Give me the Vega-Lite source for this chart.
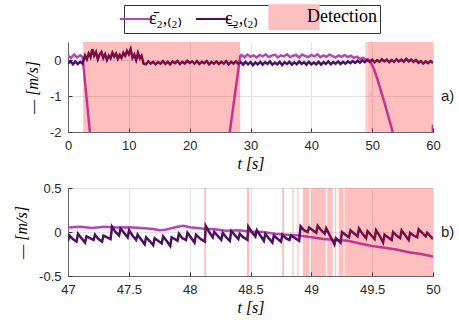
{
  "$schema": "https://vega.github.io/schema/vega-lite/v6.json",
  "padding": {"left": 13, "top": 4, "right": 2, "bottom": 5},
  "spacing": 11,
  "datasets": {
    "top": [
      {"t":0,"v":0.12,"s":"ε̄₂,₍₂₎"},{"t":0.5,"v":0.06,"s":"ε̄₂,₍₂₎"},{"t":1,"v":0.15,"s":"ε̄₂,₍₂₎"},{"t":1.5,"v":0.07,"s":"ε̄₂,₍₂₎"},{"t":2,"v":0.13,"s":"ε̄₂,₍₂₎"},{"t":2.4,"v":0.08,"s":"ε̄₂,₍₂₎"},
      {"t":3.6,"v":-2.0,"s":"ε̄₂,₍₂₎"},{"t":4.1,"v":-2.9,"s":"ε̄₂,₍₂₎"},{"t":26,"v":-2.9,"s":"ε̄₂,₍₂₎"},{"t":26.6,"v":-2.0,"s":"ε̄₂,₍₂₎"},{"t":28.3,"v":0.1,"s":"ε̄₂,₍₂₎"},
      {"t":28.5,"v":0.14,"s":"ε̄₂,₍₂₎"},{"t":29,"v":0.08,"s":"ε̄₂,₍₂₎"},{"t":29.5,"v":0.15,"s":"ε̄₂,₍₂₎"},{"t":30,"v":0.09,"s":"ε̄₂,₍₂₎"},{"t":30.5,"v":0.13,"s":"ε̄₂,₍₂₎"},{"t":31,"v":0.07,"s":"ε̄₂,₍₂₎"},{"t":31.5,"v":0.14,"s":"ε̄₂,₍₂₎"},{"t":32,"v":0.1,"s":"ε̄₂,₍₂₎"},{"t":32.5,"v":0.16,"s":"ε̄₂,₍₂₎"},{"t":33,"v":0.08,"s":"ε̄₂,₍₂₎"},{"t":33.5,"v":0.12,"s":"ε̄₂,₍₂₎"},{"t":34,"v":0.15,"s":"ε̄₂,₍₂₎"},{"t":34.5,"v":0.07,"s":"ε̄₂,₍₂₎"},{"t":35,"v":0.13,"s":"ε̄₂,₍₂₎"},{"t":35.5,"v":0.1,"s":"ε̄₂,₍₂₎"},{"t":36,"v":0.16,"s":"ε̄₂,₍₂₎"},{"t":36.5,"v":0.08,"s":"ε̄₂,₍₂₎"},{"t":37,"v":0.12,"s":"ε̄₂,₍₂₎"},{"t":37.5,"v":0.14,"s":"ε̄₂,₍₂₎"},{"t":38,"v":0.07,"s":"ε̄₂,₍₂₎"},{"t":38.5,"v":0.15,"s":"ε̄₂,₍₂₎"},{"t":39,"v":0.11,"s":"ε̄₂,₍₂₎"},{"t":39.5,"v":0.08,"s":"ε̄₂,₍₂₎"},{"t":40,"v":0.14,"s":"ε̄₂,₍₂₎"},{"t":40.5,"v":0.1,"s":"ε̄₂,₍₂₎"},{"t":41,"v":0.16,"s":"ε̄₂,₍₂₎"},{"t":41.5,"v":0.08,"s":"ε̄₂,₍₂₎"},{"t":42,"v":0.13,"s":"ε̄₂,₍₂₎"},{"t":42.5,"v":0.09,"s":"ε̄₂,₍₂₎"},{"t":43,"v":0.15,"s":"ε̄₂,₍₂₎"},{"t":43.5,"v":0.11,"s":"ε̄₂,₍₂₎"},{"t":44,"v":0.07,"s":"ε̄₂,₍₂₎"},{"t":44.5,"v":0.13,"s":"ε̄₂,₍₂₎"},{"t":45,"v":0.09,"s":"ε̄₂,₍₂₎"},{"t":45.5,"v":0.14,"s":"ε̄₂,₍₂₎"},{"t":46,"v":0.08,"s":"ε̄₂,₍₂₎"},{"t":46.5,"v":0.12,"s":"ε̄₂,₍₂₎"},{"t":47,"v":0.06,"s":"ε̄₂,₍₂₎"},{"t":47.5,"v":0.09,"s":"ε̄₂,₍₂₎"},{"t":48,"v":0.03,"s":"ε̄₂,₍₂₎"},{"t":48.5,"v":0.06,"s":"ε̄₂,₍₂₎"},{"t":49,"v":0.0,"s":"ε̄₂,₍₂₎"},{"t":49.3,"v":0.02,"s":"ε̄₂,₍₂₎"},
      {"t":49.8,"v":-0.08,"s":"ε̄₂,₍₂₎"},{"t":50.3,"v":-0.25,"s":"ε̄₂,₍₂₎"},{"t":50.8,"v":-0.5,"s":"ε̄₂,₍₂₎"},{"t":51.3,"v":-0.78,"s":"ε̄₂,₍₂₎"},{"t":51.8,"v":-1.05,"s":"ε̄₂,₍₂₎"},{"t":52.3,"v":-1.35,"s":"ε̄₂,₍₂₎"},{"t":52.8,"v":-1.65,"s":"ε̄₂,₍₂₎"},{"t":53.3,"v":-1.95,"s":"ε̄₂,₍₂₎"},{"t":53.8,"v":-2.3,"s":"ε̄₂,₍₂₎"},{"t":54.3,"v":-2.7,"s":"ε̄₂,₍₂₎"},{"t":59.9,"v":-2.7,"s":"ε̄₂,₍₂₎"},{"t":60,"v":-1.8,"s":"ε̄₂,₍₂₎"},

      {"t":0,"v":-0.1,"s":"ε̲₂,₍₂₎"},{"t":0.4,"v":-0.03,"s":"ε̲₂,₍₂₎"},{"t":0.8,"v":-0.12,"s":"ε̲₂,₍₂₎"},{"t":1.2,"v":-0.04,"s":"ε̲₂,₍₂₎"},{"t":1.6,"v":-0.11,"s":"ε̲₂,₍₂₎"},{"t":2.0,"v":-0.05,"s":"ε̲₂,₍₂₎"},{"t":2.4,"v":-0.1,"s":"ε̲₂,₍₂₎"},
      {"t":2.8,"v":0.12,"s":"ε̲₂,₍₂₎"},{"t":3.1,"v":0.02,"s":"ε̲₂,₍₂₎"},{"t":3.4,"v":0.18,"s":"ε̲₂,₍₂₎"},{"t":3.7,"v":0.08,"s":"ε̲₂,₍₂₎"},{"t":4.0,"v":0.3,"s":"ε̲₂,₍₂₎"},{"t":4.3,"v":0.12,"s":"ε̲₂,₍₂₎"},{"t":4.6,"v":0.22,"s":"ε̲₂,₍₂₎"},{"t":4.9,"v":0.02,"s":"ε̲₂,₍₂₎"},{"t":5.2,"v":0.15,"s":"ε̲₂,₍₂₎"},{"t":5.5,"v":0.22,"s":"ε̲₂,₍₂₎"},{"t":5.8,"v":0.06,"s":"ε̲₂,₍₂₎"},{"t":6.1,"v":0.16,"s":"ε̲₂,₍₂₎"},{"t":6.4,"v":0.0,"s":"ε̲₂,₍₂₎"},{"t":6.7,"v":0.12,"s":"ε̲₂,₍₂₎"},{"t":7.0,"v":0.05,"s":"ε̲₂,₍₂₎"},{"t":7.3,"v":0.2,"s":"ε̲₂,₍₂₎"},{"t":7.6,"v":0.1,"s":"ε̲₂,₍₂₎"},{"t":7.9,"v":0.18,"s":"ε̲₂,₍₂₎"},{"t":8.2,"v":0.03,"s":"ε̲₂,₍₂₎"},{"t":8.5,"v":0.14,"s":"ε̲₂,₍₂₎"},{"t":8.8,"v":0.06,"s":"ε̲₂,₍₂₎"},{"t":9.1,"v":0.2,"s":"ε̲₂,₍₂₎"},{"t":9.4,"v":0.12,"s":"ε̲₂,₍₂₎"},{"t":9.7,"v":0.25,"s":"ε̲₂,₍₂₎"},{"t":10.0,"v":0.16,"s":"ε̲₂,₍₂₎"},{"t":10.3,"v":0.3,"s":"ε̲₂,₍₂₎"},{"t":10.6,"v":0.06,"s":"ε̲₂,₍₂₎"},{"t":10.9,"v":0.15,"s":"ε̲₂,₍₂₎"},{"t":11.2,"v":0.0,"s":"ε̲₂,₍₂₎"},{"t":11.5,"v":0.2,"s":"ε̲₂,₍₂₎"},{"t":11.8,"v":0.05,"s":"ε̲₂,₍₂₎"},{"t":12.1,"v":0.12,"s":"ε̲₂,₍₂₎"},{"t":12.4,"v":-0.1,"s":"ε̲₂,₍₂₎"},
      {"t":12.8,"v":-0.12,"s":"ε̲₂,₍₂₎"},{"t":13.2,"v":-0.04,"s":"ε̲₂,₍₂₎"},{"t":13.6,"v":-0.1,"s":"ε̲₂,₍₂₎"},{"t":14.0,"v":-0.05,"s":"ε̲₂,₍₂₎"},{"t":14.4,"v":-0.12,"s":"ε̲₂,₍₂₎"},{"t":14.8,"v":-0.06,"s":"ε̲₂,₍₂₎"},{"t":15.2,"v":-0.1,"s":"ε̲₂,₍₂₎"},{"t":15.6,"v":-0.03,"s":"ε̲₂,₍₂₎"},{"t":16.0,"v":-0.11,"s":"ε̲₂,₍₂₎"},{"t":16.4,"v":-0.05,"s":"ε̲₂,₍₂₎"},{"t":16.8,"v":-0.12,"s":"ε̲₂,₍₂₎"},{"t":17.2,"v":-0.04,"s":"ε̲₂,₍₂₎"},{"t":17.6,"v":-0.09,"s":"ε̲₂,₍₂₎"},{"t":18.0,"v":-0.03,"s":"ε̲₂,₍₂₎"},{"t":18.4,"v":-0.11,"s":"ε̲₂,₍₂₎"},{"t":18.8,"v":-0.05,"s":"ε̲₂,₍₂₎"},{"t":19.2,"v":-0.1,"s":"ε̲₂,₍₂₎"},{"t":19.6,"v":-0.02,"s":"ε̲₂,₍₂₎"},{"t":20.0,"v":-0.08,"s":"ε̲₂,₍₂₎"},{"t":20.4,"v":-0.04,"s":"ε̲₂,₍₂₎"},{"t":20.8,"v":-0.1,"s":"ε̲₂,₍₂₎"},{"t":21.2,"v":-0.03,"s":"ε̲₂,₍₂₎"},{"t":21.6,"v":-0.11,"s":"ε̲₂,₍₂₎"},{"t":22.0,"v":-0.05,"s":"ε̲₂,₍₂₎"},{"t":22.4,"v":-0.09,"s":"ε̲₂,₍₂₎"},{"t":22.8,"v":-0.03,"s":"ε̲₂,₍₂₎"},{"t":23.2,"v":-0.12,"s":"ε̲₂,₍₂₎"},{"t":23.6,"v":-0.06,"s":"ε̲₂,₍₂₎"},{"t":24.0,"v":-0.1,"s":"ε̲₂,₍₂₎"},{"t":24.4,"v":-0.04,"s":"ε̲₂,₍₂₎"},{"t":24.8,"v":-0.11,"s":"ε̲₂,₍₂₎"},{"t":25.2,"v":-0.05,"s":"ε̲₂,₍₂₎"},{"t":25.6,"v":-0.1,"s":"ε̲₂,₍₂₎"},{"t":26.0,"v":-0.03,"s":"ε̲₂,₍₂₎"},{"t":26.4,"v":-0.12,"s":"ε̲₂,₍₂₎"},{"t":26.8,"v":-0.05,"s":"ε̲₂,₍₂₎"},{"t":27.2,"v":-0.1,"s":"ε̲₂,₍₂₎"},{"t":27.6,"v":-0.04,"s":"ε̲₂,₍₂₎"},{"t":28.0,"v":-0.11,"s":"ε̲₂,₍₂₎"},{"t":28.4,"v":-0.06,"s":"ε̲₂,₍₂₎"},{"t":28.8,"v":-0.13,"s":"ε̲₂,₍₂₎"},{"t":29.2,"v":-0.05,"s":"ε̲₂,₍₂₎"},{"t":29.6,"v":-0.12,"s":"ε̲₂,₍₂₎"},{"t":30.0,"v":-0.06,"s":"ε̲₂,₍₂₎"},{"t":30.4,"v":-0.14,"s":"ε̲₂,₍₂₎"},{"t":30.8,"v":-0.07,"s":"ε̲₂,₍₂₎"},{"t":31.2,"v":-0.12,"s":"ε̲₂,₍₂₎"},{"t":31.6,"v":-0.05,"s":"ε̲₂,₍₂₎"},{"t":32.0,"v":-0.13,"s":"ε̲₂,₍₂₎"},{"t":32.4,"v":-0.06,"s":"ε̲₂,₍₂₎"},{"t":32.8,"v":-0.11,"s":"ε̲₂,₍₂₎"},{"t":33.2,"v":-0.04,"s":"ε̲₂,₍₂₎"},{"t":33.6,"v":-0.13,"s":"ε̲₂,₍₂₎"},{"t":34.0,"v":-0.07,"s":"ε̲₂,₍₂₎"},{"t":34.4,"v":-0.12,"s":"ε̲₂,₍₂₎"},{"t":34.8,"v":-0.05,"s":"ε̲₂,₍₂₎"},{"t":35.2,"v":-0.14,"s":"ε̲₂,₍₂₎"},{"t":35.6,"v":-0.06,"s":"ε̲₂,₍₂₎"},{"t":36.0,"v":-0.11,"s":"ε̲₂,₍₂₎"},{"t":36.4,"v":-0.05,"s":"ε̲₂,₍₂₎"},{"t":36.8,"v":-0.13,"s":"ε̲₂,₍₂₎"},{"t":37.2,"v":-0.06,"s":"ε̲₂,₍₂₎"},{"t":37.6,"v":-0.12,"s":"ε̲₂,₍₂₎"},{"t":38.0,"v":-0.04,"s":"ε̲₂,₍₂₎"},{"t":38.4,"v":-0.11,"s":"ε̲₂,₍₂₎"},{"t":38.8,"v":-0.06,"s":"ε̲₂,₍₂₎"},{"t":39.2,"v":-0.13,"s":"ε̲₂,₍₂₎"},{"t":39.6,"v":-0.05,"s":"ε̲₂,₍₂₎"},{"t":40.0,"v":-0.12,"s":"ε̲₂,₍₂₎"},{"t":40.4,"v":-0.07,"s":"ε̲₂,₍₂₎"},{"t":40.8,"v":-0.12,"s":"ε̲₂,₍₂₎"},{"t":41.2,"v":-0.05,"s":"ε̲₂,₍₂₎"},{"t":41.6,"v":-0.13,"s":"ε̲₂,₍₂₎"},{"t":42.0,"v":-0.06,"s":"ε̲₂,₍₂₎"},{"t":42.4,"v":-0.11,"s":"ε̲₂,₍₂₎"},{"t":42.8,"v":-0.04,"s":"ε̲₂,₍₂₎"},{"t":43.2,"v":-0.12,"s":"ε̲₂,₍₂₎"},{"t":43.6,"v":-0.06,"s":"ε̲₂,₍₂₎"},{"t":44.0,"v":-0.1,"s":"ε̲₂,₍₂₎"},{"t":44.4,"v":-0.04,"s":"ε̲₂,₍₂₎"},{"t":44.8,"v":-0.11,"s":"ε̲₂,₍₂₎"},{"t":45.2,"v":-0.05,"s":"ε̲₂,₍₂₎"},{"t":45.6,"v":-0.1,"s":"ε̲₂,₍₂₎"},{"t":46.0,"v":-0.04,"s":"ε̲₂,₍₂₎"},{"t":46.4,"v":-0.09,"s":"ε̲₂,₍₂₎"},{"t":46.8,"v":-0.03,"s":"ε̲₂,₍₂₎"},{"t":47.2,"v":-0.08,"s":"ε̲₂,₍₂₎"},{"t":47.6,"v":-0.02,"s":"ε̲₂,₍₂₎"},{"t":48.0,"v":-0.07,"s":"ε̲₂,₍₂₎"},{"t":48.4,"v":-0.01,"s":"ε̲₂,₍₂₎"},{"t":48.8,"v":-0.06,"s":"ε̲₂,₍₂₎"},{"t":49.2,"v":0.0,"s":"ε̲₂,₍₂₎"},{"t":49.6,"v":-0.05,"s":"ε̲₂,₍₂₎"},{"t":50.0,"v":0.01,"s":"ε̲₂,₍₂₎"},{"t":50.4,"v":-0.06,"s":"ε̲₂,₍₂₎"},{"t":50.8,"v":0.0,"s":"ε̲₂,₍₂₎"},{"t":51.2,"v":-0.05,"s":"ε̲₂,₍₂₎"},{"t":51.6,"v":0.02,"s":"ε̲₂,₍₂₎"},{"t":52.0,"v":-0.04,"s":"ε̲₂,₍₂₎"},{"t":52.4,"v":0.01,"s":"ε̲₂,₍₂₎"},{"t":52.8,"v":-0.06,"s":"ε̲₂,₍₂₎"},{"t":53.2,"v":0.0,"s":"ε̲₂,₍₂₎"},{"t":53.6,"v":-0.05,"s":"ε̲₂,₍₂₎"},{"t":54.0,"v":0.02,"s":"ε̲₂,₍₂₎"},{"t":54.4,"v":-0.04,"s":"ε̲₂,₍₂₎"},{"t":54.8,"v":0.01,"s":"ε̲₂,₍₂₎"},{"t":55.2,"v":-0.05,"s":"ε̲₂,₍₂₎"},{"t":55.6,"v":0.03,"s":"ε̲₂,₍₂₎"},{"t":56.0,"v":-0.04,"s":"ε̲₂,₍₂₎"},{"t":56.4,"v":0.01,"s":"ε̲₂,₍₂₎"},{"t":56.8,"v":-0.05,"s":"ε̲₂,₍₂₎"},{"t":57.2,"v":0.0,"s":"ε̲₂,₍₂₎"},{"t":57.6,"v":-0.08,"s":"ε̲₂,₍₂₎"},{"t":58.0,"v":-0.03,"s":"ε̲₂,₍₂₎"},{"t":58.4,"v":-0.1,"s":"ε̲₂,₍₂₎"},{"t":58.8,"v":-0.04,"s":"ε̲₂,₍₂₎"},{"t":59.2,"v":-0.09,"s":"ε̲₂,₍₂₎"},{"t":59.6,"v":-0.03,"s":"ε̲₂,₍₂₎"},{"t":60.0,"v":-0.08,"s":"ε̲₂,₍₂₎"}
    ],
    "bot": [
      {"t":47.0,"v":0.05,"s":"ε̄₂,₍₂₎"},{"t":47.1,"v":0.06,"s":"ε̄₂,₍₂₎"},{"t":47.2,"v":0.045,"s":"ε̄₂,₍₂₎"},{"t":47.3,"v":0.06,"s":"ε̄₂,₍₂₎"},{"t":47.4,"v":0.05,"s":"ε̄₂,₍₂₎"},{"t":47.5,"v":0.055,"s":"ε̄₂,₍₂₎"},{"t":47.6,"v":0.045,"s":"ε̄₂,₍₂₎"},{"t":47.7,"v":0.035,"s":"ε̄₂,₍₂₎"},{"t":47.75,"v":0.02,"s":"ε̄₂,₍₂₎"},{"t":47.8,"v":0.025,"s":"ε̄₂,₍₂₎"},{"t":47.9,"v":0.06,"s":"ε̄₂,₍₂₎"},{"t":47.95,"v":0.07,"s":"ε̄₂,₍₂₎"},{"t":48.0,"v":0.055,"s":"ε̄₂,₍₂₎"},{"t":48.1,"v":0.04,"s":"ε̄₂,₍₂₎"},{"t":48.2,"v":0.03,"s":"ε̄₂,₍₂₎"},{"t":48.3,"v":0.015,"s":"ε̄₂,₍₂₎"},{"t":48.4,"v":0.02,"s":"ε̄₂,₍₂₎"},{"t":48.5,"v":0.005,"s":"ε̄₂,₍₂₎"},{"t":48.6,"v":0.0,"s":"ε̄₂,₍₂₎"},{"t":48.7,"v":-0.02,"s":"ε̄₂,₍₂₎"},{"t":48.8,"v":-0.03,"s":"ε̄₂,₍₂₎"},{"t":48.9,"v":-0.04,"s":"ε̄₂,₍₂₎"},{"t":49.0,"v":-0.06,"s":"ε̄₂,₍₂₎"},{"t":49.1,"v":-0.08,"s":"ε̄₂,₍₂₎"},{"t":49.2,"v":-0.09,"s":"ε̄₂,₍₂₎"},{"t":49.3,"v":-0.1,"s":"ε̄₂,₍₂₎"},{"t":49.4,"v":-0.13,"s":"ε̄₂,₍₂₎"},{"t":49.5,"v":-0.16,"s":"ε̄₂,₍₂₎"},{"t":49.6,"v":-0.18,"s":"ε̄₂,₍₂₎"},{"t":49.7,"v":-0.2,"s":"ε̄₂,₍₂₎"},{"t":49.8,"v":-0.23,"s":"ε̄₂,₍₂₎"},{"t":49.9,"v":-0.25,"s":"ε̄₂,₍₂₎"},{"t":50.0,"v":-0.28,"s":"ε̄₂,₍₂₎"},

      {"t":47.0,"v":-0.1,"s":"ε̲₂,₍₂₎"},{"t":47.012,"v":-0.04,"s":"ε̲₂,₍₂₎"},{"t":47.04,"v":-0.08,"s":"ε̲₂,₍₂₎"},{"t":47.07,"v":-0.11,"s":"ε̲₂,₍₂₎"},{"t":47.082,"v":-0.02,"s":"ε̲₂,₍₂₎"},{"t":47.11,"v":-0.07,"s":"ε̲₂,₍₂₎"},{"t":47.14,"v":-0.12,"s":"ε̲₂,₍₂₎"},{"t":47.152,"v":-0.05,"s":"ε̲₂,₍₂₎"},{"t":47.21,"v":-0.09,"s":"ε̲₂,₍₂₎"},{"t":47.222,"v":-0.03,"s":"ε̲₂,₍₂₎"},{"t":47.25,"v":-0.08,"s":"ε̲₂,₍₂₎"},{"t":47.28,"v":-0.11,"s":"ε̲₂,₍₂₎"},{"t":47.292,"v":-0.04,"s":"ε̲₂,₍₂₎"},{"t":47.35,"v":-0.08,"s":"ε̲₂,₍₂₎"},{"t":47.362,"v":0.06,"s":"ε̲₂,₍₂₎"},{"t":47.39,"v":0.0,"s":"ε̲₂,₍₂₎"},{"t":47.42,"v":-0.04,"s":"ε̲₂,₍₂₎"},{"t":47.432,"v":0.04,"s":"ε̲₂,₍₂₎"},{"t":47.49,"v":-0.06,"s":"ε̲₂,₍₂₎"},{"t":47.502,"v":0.02,"s":"ε̲₂,₍₂₎"},{"t":47.53,"v":-0.04,"s":"ε̲₂,₍₂₎"},{"t":47.56,"v":-0.09,"s":"ε̲₂,₍₂₎"},{"t":47.572,"v":-0.03,"s":"ε̲₂,₍₂₎"},{"t":47.63,"v":-0.14,"s":"ε̲₂,₍₂₎"},{"t":47.642,"v":-0.06,"s":"ε̲₂,₍₂₎"},{"t":47.67,"v":-0.1,"s":"ε̲₂,₍₂₎"},{"t":47.7,"v":-0.15,"s":"ε̲₂,₍₂₎"},{"t":47.712,"v":-0.07,"s":"ε̲₂,₍₂₎"},{"t":47.77,"v":-0.13,"s":"ε̲₂,₍₂₎"},{"t":47.782,"v":-0.05,"s":"ε̲₂,₍₂₎"},{"t":47.81,"v":-0.1,"s":"ε̲₂,₍₂₎"},{"t":47.84,"v":-0.16,"s":"ε̲₂,₍₂₎"},{"t":47.852,"v":-0.06,"s":"ε̲₂,₍₂₎"},{"t":47.9,"v":-0.1,"s":"ε̲₂,₍₂₎"},{"t":47.912,"v":-0.02,"s":"ε̲₂,₍₂₎"},{"t":47.94,"v":-0.07,"s":"ε̲₂,₍₂₎"},{"t":47.97,"v":-0.09,"s":"ε̲₂,₍₂₎"},{"t":47.982,"v":-0.01,"s":"ε̲₂,₍₂₎"},{"t":48.04,"v":-0.12,"s":"ε̲₂,₍₂₎"},{"t":48.052,"v":-0.03,"s":"ε̲₂,₍₂₎"},{"t":48.09,"v":-0.08,"s":"ε̲₂,₍₂₎"},{"t":48.125,"v":-0.11,"s":"ε̲₂,₍₂₎"},{"t":48.132,"v":0.07,"s":"ε̲₂,₍₂₎"},{"t":48.16,"v":0.0,"s":"ε̲₂,₍₂₎"},{"t":48.19,"v":-0.06,"s":"ε̲₂,₍₂₎"},{"t":48.202,"v":0.0,"s":"ε̲₂,₍₂₎"},{"t":48.26,"v":-0.09,"s":"ε̲₂,₍₂₎"},{"t":48.272,"v":-0.01,"s":"ε̲₂,₍₂₎"},{"t":48.3,"v":-0.06,"s":"ε̲₂,₍₂₎"},{"t":48.33,"v":-0.1,"s":"ε̲₂,₍₂₎"},{"t":48.342,"v":0.01,"s":"ε̲₂,₍₂₎"},{"t":48.4,"v":-0.08,"s":"ε̲₂,₍₂₎"},{"t":48.412,"v":-0.02,"s":"ε̲₂,₍₂₎"},{"t":48.44,"v":-0.06,"s":"ε̲₂,₍₂₎"},{"t":48.475,"v":-0.09,"s":"ε̲₂,₍₂₎"},{"t":48.482,"v":0.06,"s":"ε̲₂,₍₂₎"},{"t":48.51,"v":0.0,"s":"ε̲₂,₍₂₎"},{"t":48.54,"v":-0.05,"s":"ε̲₂,₍₂₎"},{"t":48.552,"v":0.02,"s":"ε̲₂,₍₂₎"},{"t":48.61,"v":-0.1,"s":"ε̲₂,₍₂₎"},{"t":48.622,"v":-0.02,"s":"ε̲₂,₍₂₎"},{"t":48.65,"v":-0.07,"s":"ε̲₂,₍₂₎"},{"t":48.68,"v":-0.12,"s":"ε̲₂,₍₂₎"},{"t":48.692,"v":-0.04,"s":"ε̲₂,₍₂₎"},{"t":48.75,"v":-0.11,"s":"ε̲₂,₍₂₎"},{"t":48.762,"v":-0.03,"s":"ε̲₂,₍₂₎"},{"t":48.79,"v":-0.07,"s":"ε̲₂,₍₂₎"},{"t":48.82,"v":-0.09,"s":"ε̲₂,₍₂₎"},{"t":48.832,"v":-0.04,"s":"ε̲₂,₍₂₎"},{"t":48.9,"v":-0.1,"s":"ε̲₂,₍₂₎"},{"t":48.912,"v":0.065,"s":"ε̲₂,₍₂₎"},{"t":48.94,"v":0.02,"s":"ε̲₂,₍₂₎"},{"t":48.97,"v":0.0,"s":"ε̲₂,₍₂₎"},{"t":48.982,"v":0.05,"s":"ε̲₂,₍₂₎"},{"t":49.04,"v":-0.01,"s":"ε̲₂,₍₂₎"},{"t":49.052,"v":0.07,"s":"ε̲₂,₍₂₎"},{"t":49.08,"v":0.02,"s":"ε̲₂,₍₂₎"},{"t":49.11,"v":-0.02,"s":"ε̲₂,₍₂₎"},{"t":49.122,"v":0.04,"s":"ε̲₂,₍₂₎"},{"t":49.16,"v":-0.06,"s":"ε̲₂,₍₂₎"},{"t":49.19,"v":-0.14,"s":"ε̲₂,₍₂₎"},{"t":49.202,"v":-0.07,"s":"ε̲₂,₍₂₎"},{"t":49.24,"v":-0.12,"s":"ε̲₂,₍₂₎"},{"t":49.252,"v":0.0,"s":"ε̲₂,₍₂₎"},{"t":49.28,"v":-0.03,"s":"ε̲₂,₍₂₎"},{"t":49.31,"v":-0.06,"s":"ε̲₂,₍₂₎"},{"t":49.322,"v":0.02,"s":"ε̲₂,₍₂₎"},{"t":49.38,"v":-0.05,"s":"ε̲₂,₍₂₎"},{"t":49.392,"v":0.04,"s":"ε̲₂,₍₂₎"},{"t":49.42,"v":-0.02,"s":"ε̲₂,₍₂₎"},{"t":49.45,"v":-0.07,"s":"ε̲₂,₍₂₎"},{"t":49.462,"v":0.01,"s":"ε̲₂,₍₂₎"},{"t":49.52,"v":-0.08,"s":"ε̲₂,₍₂₎"},{"t":49.532,"v":0.02,"s":"ε̲₂,₍₂₎"},{"t":49.56,"v":-0.04,"s":"ε̲₂,₍₂₎"},{"t":49.59,"v":-0.12,"s":"ε̲₂,₍₂₎"},{"t":49.602,"v":-0.03,"s":"ε̲₂,₍₂₎"},{"t":49.66,"v":-0.09,"s":"ε̲₂,₍₂₎"},{"t":49.672,"v":0.0,"s":"ε̲₂,₍₂₎"},{"t":49.7,"v":-0.04,"s":"ε̲₂,₍₂₎"},{"t":49.73,"v":-0.07,"s":"ε̲₂,₍₂₎"},{"t":49.742,"v":0.02,"s":"ε̲₂,₍₂₎"},{"t":49.8,"v":-0.09,"s":"ε̲₂,₍₂₎"},{"t":49.812,"v":-0.01,"s":"ε̲₂,₍₂₎"},{"t":49.84,"v":-0.04,"s":"ε̲₂,₍₂₎"},{"t":49.87,"v":-0.06,"s":"ε̲₂,₍₂₎"},{"t":49.882,"v":0.03,"s":"ε̲₂,₍₂₎"},{"t":49.94,"v":-0.05,"s":"ε̲₂,₍₂₎"},{"t":49.952,"v":-0.01,"s":"ε̲₂,₍₂₎"},{"t":50.0,"v":-0.08,"s":"ε̲₂,₍₂₎"}
    ],
    "detTop": [
      {"t0":2.5,"t1":28.3},{"t0":48.12,"t1":48.135},{"t0":48.47,"t1":48.49},{"t0":48.76,"t1":48.775},{"t0":48.845,"t1":48.855},{"t0":48.885,"t1":48.895},{"t0":48.93,"t1":48.985},{"t0":49.0,"t1":49.12},{"t0":49.13,"t1":49.175},{"t0":49.195,"t1":49.205},{"t0":49.225,"t1":49.265},{"t0":49.272,"t1":60}
    ],
    "detBot": [
      {"t0":48.12,"t1":48.135},{"t0":48.47,"t1":48.49},{"t0":48.76,"t1":48.775},{"t0":48.845,"t1":48.855},{"t0":48.885,"t1":48.895},{"t0":48.93,"t1":48.985},{"t0":49.0,"t1":49.12},{"t0":49.13,"t1":49.175},{"t0":49.195,"t1":49.205},{"t0":49.225,"t1":49.265},{"t0":49.272,"t1":50}
    ]
  },
  "vconcat": [
    {
      "width": 365,
      "height": 90,
      "layer": [
        {
          "data": {"name": "top"},
          "mark": {"type": "line", "clip": true, "strokeWidth": 2.5},
          "encoding": {
            "x": {"field": "t", "type": "quantitative", "scale": {"domain": [0, 60], "nice": false}, "axis": {"values": [0, 10, 20, 30, 40, 50, 60], "title": "t [s]"}},
            "y": {"field": "v", "type": "quantitative", "scale": {"domain": [-2, 0.5], "nice": false}, "axis": {"values": [-2, -1, 0], "title": "— [m/s]"}},
            "color": {
              "field": "s", "type": "nominal",
              "scale": {"domain": ["ε̄₂,₍₂₎", "ε̲₂,₍₂₎", "Detection"], "range": ["#b444be", "#4a1060", "#ffbfbf"]},
              "legend": {
                "orient": "none", "legendX": 56, "legendY": -37, "direction": "horizontal", "title": null,
                "symbolType": "stroke", "symbolSize": 1024, "symbolStrokeWidth": 2,
                "labelFont": "Liberation Serif", "labelFontSize": 18, "labelColor": "#000",
                "strokeColor": "#333", "padding": 3, "columnPadding": 10, "labelOffset": 4,
                "encode": {
                  "legend": {"update": {"stroke": {"value": "#333"}, "strokeWidth": {"value": 1}, "fill": {"value": "#ffffff"}}},
                  "symbols": {"update": {
                    "shape": {"signal": "datum.value === 'Detection' ? 'M-1.6,-0.8H1.6V0.8H-1.6Z' : 'stroke'"},
                    "fill": {"signal": "datum.value === 'Detection' ? '#ffbfbf' : 'transparent'"},
                    "strokeWidth": {"signal": "datum.value === 'Detection' ? 0 : 2"}
                  }}
                }
              }
            }
          }
        },
        {
          "data": {"name": "detTop"},
          "mark": {"type": "rect", "color": "#ff0000", "opacity": 0.25, "clip": true},
          "encoding": {
            "x": {"field": "t0", "type": "quantitative"},
            "x2": {"field": "t1"}
          }
        },
        {
          "data": {"values": [{"t": 60, "v": -1, "lab": "a)"}]},
          "mark": {"type": "text", "align": "left", "baseline": "middle", "dx": 8, "font": "Liberation Sans", "fontSize": 15, "color": "#262626"},
          "encoding": {
            "x": {"field": "t", "type": "quantitative"},
            "y": {"field": "v", "type": "quantitative"},
            "text": {"field": "lab"}
          }
        }
      ]
    },
    {
      "width": 365,
      "height": 88,
      "layer": [
        {
          "data": {"name": "bot"},
          "mark": {"type": "line", "clip": true, "strokeWidth": 2.5},
          "encoding": {
            "x": {"field": "t", "type": "quantitative", "scale": {"domain": [47, 50], "nice": false}, "axis": {"values": [47, 47.5, 48, 48.5, 49, 49.5, 50], "title": "t [s]"}},
            "y": {"field": "v", "type": "quantitative", "scale": {"domain": [-0.5, 0.5], "nice": false}, "axis": {"values": [-0.5, 0, 0.5], "title": "— [m/s]"}},
            "color": {
              "field": "s", "type": "nominal",
              "scale": {"domain": ["ε̄₂,₍₂₎", "ε̲₂,₍₂₎", "Detection"], "range": ["#b444be", "#4a1060", "#ffbfbf"]},
              "legend": {
                "orient": "none", "legendX": 56, "legendY": -37, "direction": "horizontal", "title": null,
                "symbolType": "stroke", "symbolSize": 1024, "symbolStrokeWidth": 2,
                "labelFont": "Liberation Serif", "labelFontSize": 18, "labelColor": "#000",
                "strokeColor": "#333", "padding": 3, "columnPadding": 10, "labelOffset": 4,
                "encode": {
                  "legend": {"update": {"stroke": {"value": "#333"}, "strokeWidth": {"value": 1}, "fill": {"value": "#ffffff"}}},
                  "symbols": {"update": {
                    "shape": {"signal": "datum.value === 'Detection' ? 'M-1.6,-0.8H1.6V0.8H-1.6Z' : 'stroke'"},
                    "fill": {"signal": "datum.value === 'Detection' ? '#ffbfbf' : 'transparent'"},
                    "strokeWidth": {"signal": "datum.value === 'Detection' ? 0 : 2"}
                  }}
                }
              }
            }
          }
        },
        {
          "data": {"name": "detBot"},
          "mark": {"type": "rect", "color": "#ff0000", "opacity": 0.25, "clip": true},
          "encoding": {
            "x": {"field": "t0", "type": "quantitative"},
            "x2": {"field": "t1"}
          }
        },
        {
          "data": {"values": [{"t": 50, "v": 0, "lab": "b)"}]},
          "mark": {"type": "text", "align": "left", "baseline": "middle", "dx": 8, "font": "Liberation Sans", "fontSize": 15, "color": "#262626"},
          "encoding": {
            "x": {"field": "t", "type": "quantitative"},
            "y": {"field": "v", "type": "quantitative"},
            "text": {"field": "lab"}
          }
        }
      ]
    }
  ],
  "config": {
    "view": {"stroke": null},
    "legend": {"strokeColor": "#333", "padding": 3},
    "axis": {
      "labelFont": "Liberation Sans", "labelFontSize": 13, "labelColor": "#262626",
      "titleFont": "Liberation Serif", "titleFontStyle": "italic", "titleFontWeight": "normal", "titleFontSize": 16, "titleColor": "#000",
      "domainColor": "#666", "tickColor": "#333", "tickSize": -4, "labelPadding": 11,
      "grid": true, "gridColor": "#e3e3e3", "labelFlush": false,
      "format": "~f", "labelExpr": "replace(datum.label, '−', '-')"
    },
    "axisX": {"titlePadding": 3},
    "axisY": {"titlePadding": 9}
  }
}
